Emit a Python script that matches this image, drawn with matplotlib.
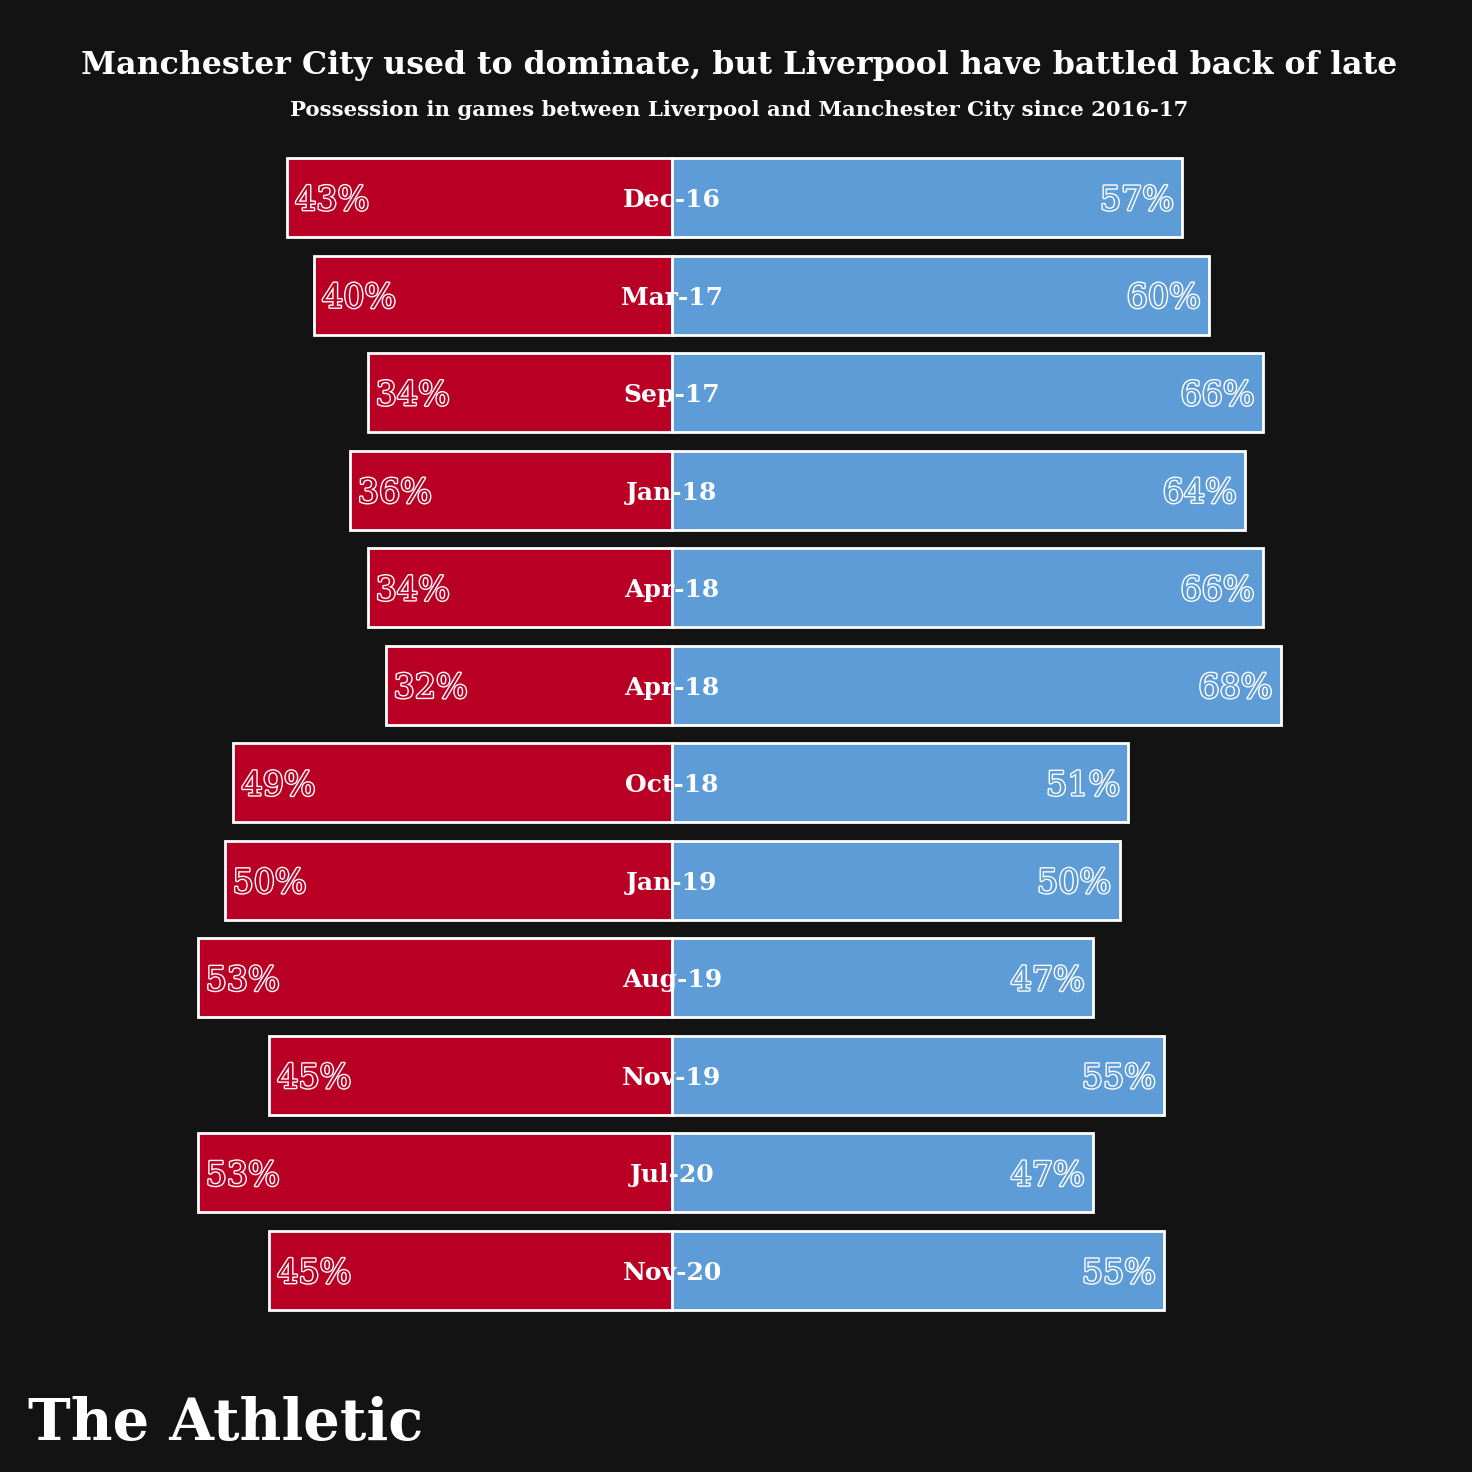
import matplotlib
matplotlib.use("Agg")
import matplotlib.pyplot as plt
import matplotlib.patheffects as pe

dates = ["Dec-16", "Mar-17", "Sep-17", "Jan-18", "Apr-18", "Apr-18",
         "Oct-18", "Jan-19", "Aug-19", "Nov-19", "Jul-20", "Nov-20"]
liverpool = [43, 40, 34, 36, 34, 32, 49, 50, 53, 45, 53, 45]
man_city = [57, 60, 66, 64, 66, 68, 51, 50, 47, 55, 47, 55]

BG = "#131313"
RED = "#b90024"
BLUE = "#5d9cd6"
W, H = 1472, 1472

fig = plt.figure(figsize=(W / 100, H / 100), dpi=100, facecolor=BG)
px_per = 8.95
center = 672
x0 = -center / px_per
x1 = (W - center) / px_per
top, bottom = 148.75, 1319.25
ax = fig.add_axes([0, 1 - bottom / H, 1, (bottom - top) / H])
ax.set_facecolor(BG)
ax.set_xlim(x0, x1)
n = len(dates)
ax.set_ylim(n - 0.5, -0.5)
ax.axis("off")

ys = list(range(n))
ax.barh(ys, [-v for v in liverpool], height=0.81, color=RED, edgecolor="white", linewidth=2)
ax.barh(ys, man_city, height=0.81, color=BLUE, edgecolor="white", linewidth=2)

serif = "DejaVu Serif"
for y, d, l, c in zip(ys, dates, liverpool, man_city):
    ax.text(0, y, d, ha="center", va="center_baseline", color="white",
            fontsize=18, fontweight="bold", family=serif)
    ax.text(-l + 8 / px_per, y, f"{l}%", ha="left", va="center_baseline",
            color=RED, fontsize=24, family=serif,
            path_effects=[pe.withStroke(linewidth=2, foreground="white")])
    ax.text(c - 8 / px_per, y, f"{c}%", ha="right", va="center_baseline",
            color=BLUE, fontsize=24, family=serif,
            path_effects=[pe.withStroke(linewidth=2, foreground="white")])

renderer = fig.canvas.get_renderer()

def fit_text(x, y, s, width_px, size, **kw):
    t = fig.text(x / W, 1 - y / H, s, fontsize=size, fontweight="bold",
                 family=serif, color="white", va="center_baseline", **kw)
    bb = t.get_window_extent(renderer=renderer)
    t.set_fontsize(size * width_px / bb.width)
    return t

fit_text(739, 62, "Manchester City used to dominate, but Liverpool have battled back of late",
         1314, 30, ha="center")
fit_text(739, 108, "Possession in games between Liverpool and Manchester City since 2016-17",
         896, 16, ha="center")
fit_text(28, 1418, "The Athletic", 395, 48, ha="left")

fig.savefig("out.png", dpi=100, facecolor=BG)
